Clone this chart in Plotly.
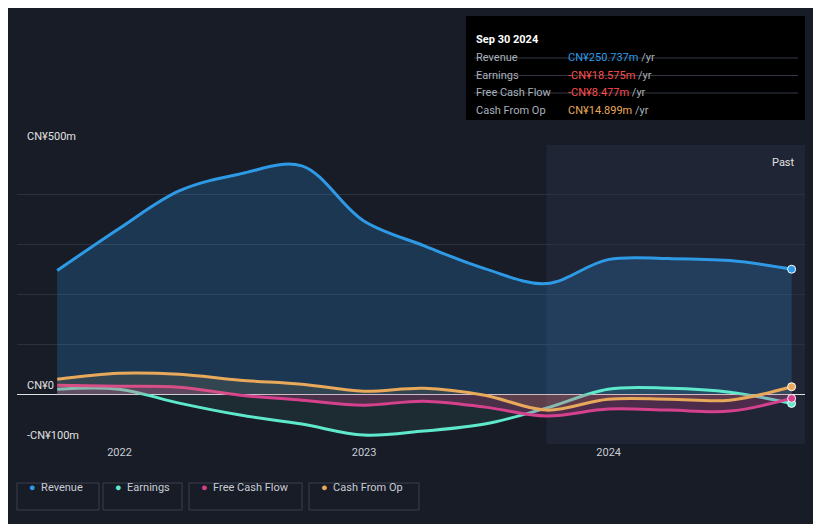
import plotly.graph_objects as go

dates = ["2021-09-30","2021-12-31","2022-03-31","2022-06-30","2022-09-30","2022-12-31","2023-03-31","2023-06-30","2023-09-30","2023-12-31","2024-03-31","2024-06-30","2024-09-30"]
revenue = [248,332,408,442,458,348,298,252,222,270,272,268,250.737]
earnings = [10,10,-18,-42,-60,-82,-74,-60,-28,10,12,4,-18.575]
fcf = [18,16,14,-2,-12,-22,-14,-26,-44,-30,-32,-34,-8.477]
cfo = [30,42,40,28,20,6,12,-2,-32,-10,-10,-12,14.899]

BG = "#181c27"
fig = go.Figure()
fig.add_vrect(x0="2023-09-30", x1="2024-10-20", fillcolor="#1f2535", line_width=0, layer="below")
fig.add_trace(go.Scatter(x=dates, y=revenue, mode="lines", line=dict(color="#2e9ae6", width=3, shape="spline"),
                         fill="tozeroy", fillcolor="rgba(46,154,230,0.22)", name="Revenue"))
fig.add_trace(go.Scatter(x=dates, y=earnings, mode="lines", line=dict(color="#5ee8cc", width=3, shape="spline"),
                         fill="tozeroy", fillcolor="rgba(94,232,204,0.08)", name="Earnings"))
fig.add_trace(go.Scatter(x=dates, y=fcf, mode="lines", line=dict(color="#d6418d", width=3, shape="spline"),
                         fill="tozeroy", fillcolor="rgba(214,65,141,0.25)", name="Free Cash Flow"))
fig.add_trace(go.Scatter(x=dates, y=cfo, mode="lines", line=dict(color="#e8a95b", width=3, shape="spline"),
                         fill="tozeroy", fillcolor="rgba(232,169,91,0.12)", name="Cash From Op"))
for s, c in [(revenue,"#2e9ae6"),(earnings,"#5ee8cc"),(fcf,"#d6418d"),(cfo,"#e8a95b")]:
    fig.add_trace(go.Scatter(x=[dates[-1]], y=[s[-1]], mode="markers", showlegend=False,
                             marker=dict(color=c, size=8, line=dict(color="white", width=1))))

fig.update_layout(
    width=821, height=524, paper_bgcolor=BG, plot_bgcolor=BG, showlegend=False,
    margin=dict(l=9, r=24, t=137, b=88),
    font=dict(family="Roboto", color="#c8ccd4", size=11),
    xaxis=dict(range=["2021-08-01","2024-10-20"], showgrid=False, zeroline=False,
               tickvals=["2022-01-01","2023-01-01","2024-01-01"], ticktext=["2022","2023","2024"],
               ticks="", tickfont=dict(size=11, color="#c8ccd4")),
    yaxis=dict(range=[-100,500], dtick=100, showticklabels=False, gridcolor="#2c3140",
               zeroline=True, zerolinecolor="#e0e0e0", zerolinewidth=1),
)
fig.add_annotation(xref="paper", yref="paper", x=0.01, y=1.0, yanchor="bottom", text="CN¥500m", showarrow=False, xanchor="left", font=dict(size=11, color="#e0e0e0"))
fig.add_annotation(xref="paper", yref="y", x=0.01, y=0, yanchor="bottom", text="CN¥0", showarrow=False, xanchor="left", font=dict(size=11, color="#e0e0e0"))
fig.add_annotation(xref="paper", yref="y", x=0.01, y=-100, yanchor="bottom", text="-CN¥100m", showarrow=False, xanchor="left", font=dict(size=11, color="#e0e0e0"))
fig.add_annotation(xref="paper", yref="paper", x=0.99, y=0.97, text="Past", showarrow=False, xanchor="right", font=dict(size=11, color="#e0e0e0"))

# tooltip box
fig.add_shape(type="rect", xref="paper", yref="paper", x0=(466-17)/788, x1=(805-17)/788,
              y0=(444-120)/299, y1=(444-16)/299, fillcolor="#000000", line=dict(width=0))
fig.add_annotation(xref="paper", yref="paper", x=(474-17)/788, y=(444-31)/299, text="<b>Sep 30 2024</b>",
                   showarrow=False, xanchor="left", font=dict(size=11, color="#ffffff"))
rows = [("Revenue","CN¥250.737m","#2e9ae6"),("Earnings","-CN¥18.575m","#ff4d4d"),
        ("Free Cash Flow","-CN¥8.477m","#ff4d4d"),("Cash From Op","CN¥14.899m","#e8a95b")]
for i,(k,v,c) in enumerate(rows):
    yy = 49 + i*17.5
    fig.add_annotation(xref="paper", yref="paper", x=(474-17)/788, y=(444-yy)/299, text=k, showarrow=False,
                       xanchor="left", font=dict(size=11, color="#aab0bb"))
    fig.add_annotation(xref="paper", yref="paper", x=(566-17)/788, y=(444-yy)/299,
                       text=f"<span style='color:{c}'>{v}</span> <span style='color:#aab0bb'>/yr</span>",
                       showarrow=False, xanchor="left", font=dict(size=11))
    if i < 3:
        fig.add_shape(type="line", xref="paper", yref="paper", x0=(474-17)/788, x1=(798-17)/788,
                      y0=(444-yy-9)/299, y1=(444-yy-9)/299, line=dict(color="#333844", width=1))

# legend boxes
items = [("Revenue","#2e9ae6",17,99),("Earnings","#5ee8cc",103,182),("Free Cash Flow","#d6418d",189,302),("Cash From Op","#e8a95b",309,419)]
for name,c,x0,x1 in items:
    fig.add_shape(type="rect", xref="paper", yref="paper", x0=(x0-17)/788, x1=(x1-17)/788,
                  y0=(444-510)/299, y1=(444-483)/299, line=dict(color="#3a3f4c", width=1), fillcolor=BG)
    fig.add_annotation(xref="paper", yref="paper", x=(x0+10-17)/788, y=(444-496)/299,
                       text=f"<span style='color:{c}'>●</span>  {name}", showarrow=False, xanchor="left",
                       font=dict(size=11, color="#c8ccd4"))
fig.write_html("out.html")
